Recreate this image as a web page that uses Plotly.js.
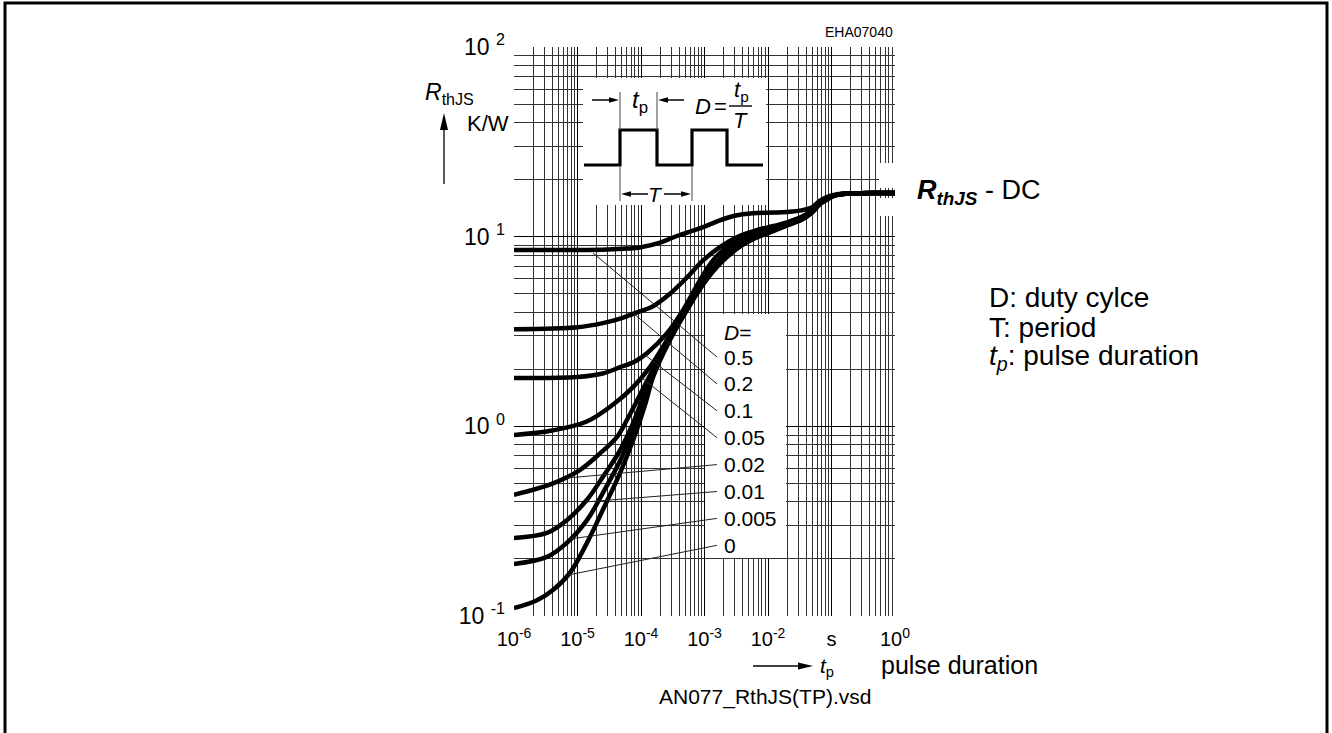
<!DOCTYPE html>
<html><head><meta charset="utf-8">
<script src="https://cdn.plot.ly/plotly-3.0.1.min.js"></script>
<style>html,body{margin:0;padding:0;background:#fff;}#chart{width:1332px;height:733px;}</style>
</head><body><div id="chart"></div>
<script>
// ---------- data ----------
const dutyLabels = ['0.5','0.2','0.1','0.05','0.02','0.01','0.005','0'];
const xTickVals = [1e-6,1e-5,1e-4,1e-3,1e-2,1e-1,1];
const xTickText = ['10<sup>-6</sup>','10<sup>-5</sup>','10<sup>-4</sup>','10<sup>-3</sup>','10<sup>-2</sup>','s','10<sup>0</sup>'];
const yTickVals = [0.1,1,10,100];
const yTickText = ['10\u00a0<sup>-1</sup>','10\u00a0<sup>0</sup>','10\u00a0<sup>1</sup>','10\u00a0<sup>2</sup>'];

const t_D05 = [1e-6,1e-5,3e-5,6e-5,1e-4,2e-4,3.2e-4,5.3e-4,1e-3,1.75e-3,3e-3,5.8e-3,1.2e-2,2e-2,3.5e-2,5e-2,6.6e-2,9e-2,0.12,0.22,0.5,1];
const R_D05 = [8.5,8.5,8.55,8.65,8.8,9.3,9.9,10.5,11.3,12.2,12.9,13.3,13.4,13.5,13.8,14.3,15.5,16.3,16.7,16.9,17.0,17.0];

const t_D02 = [1e-6,1e-5,2.5e-5,5e-5,7.5e-5,1.55e-4,2.86e-4,5.3e-4,9.5e-4,1.75e-3,3e-3,4.6e-3,7e-3,1e-2,2e-2,3.5e-2,5e-2,6.6e-2,9e-2,0.12,0.22,0.5,1];
const R_D02 = [3.25,3.33,3.5,3.72,3.92,4.3,5.0,6.1,7.5,8.8,9.8,10.4,10.9,11.2,11.9,12.8,13.8,15.2,16.1,16.6,16.9,17.0,17.0];

const t_D01 = [1e-6,9.8e-6,2.5e-5,4.7e-5,8e-5,1.24e-4,2.57e-4,4.6e-4,8.5e-4,1.36e-3,2e-3,3.25e-3,5e-3,7.5e-3,1.2e-2,2e-2,3.5e-2,5e-2,6.6e-2,9e-2,0.12,0.22,0.5,1];
const R_D01 = [1.8,1.82,1.9,2.05,2.2,2.43,3.1,4.1,5.9,7.5,8.5,9.6,10.3,10.8,11.2,11.8,12.7,13.8,15.1,16.0,16.6,16.9,17.0,17.0];

const t_D005 = [1e-6,4e-6,1.4e-5,3.6e-5,7.5e-5,1.38e-4,2.57e-4,4.6e-4,8.5e-4,1.36e-3,2.8e-3,5.8e-3,1e-2,2e-2,3.5e-2,5e-2,6.6e-2,9e-2,0.12,0.22,0.5,1];
const R_D005 = [0.9,0.95,1.06,1.3,1.61,2.05,2.85,3.96,5.4,6.9,8.8,10.2,10.8,11.7,12.6,13.7,15.1,16.0,16.6,16.9,17.0,17.0];

const t_D002 = [1e-6,4.1e-6,1.1e-5,2.26e-5,4.2e-5,6e-5,9e-5,1.55e-4,2.86e-4,5.3e-4,9.5e-4,1.75e-3,3.6e-3,6e-3,1e-2,2e-2,3.5e-2,5e-2,6.6e-2,9e-2,0.12,0.22,0.5,1];
const R_D002 = [0.435,0.50,0.59,0.72,0.88,1.08,1.4,2.0,2.95,4.25,5.75,7.35,9.0,9.9,10.6,11.6,12.5,13.6,15.0,16.0,16.6,16.9,17.0,17.0];

const t_D001 = [1e-6,3.3e-6,6.8e-6,1.41e-5,2.5e-5,4.7e-5,7.5e-5,1.1e-4,1.55e-4,2.86e-4,5.3e-4,9.5e-4,1.75e-3,3.6e-3,6e-3,1e-2,2e-2,3.5e-2,5e-2,6.6e-2,9e-2,0.12,0.22,0.5,1];
const R_D001 = [0.258,0.274,0.32,0.41,0.54,0.75,1.04,1.45,1.95,2.92,4.2,5.7,7.3,8.95,9.85,10.55,11.55,12.45,13.55,14.95,15.95,16.6,16.9,17.0,17.0];

const t_D0005 = [1e-6,3.3e-6,6.8e-6,1.41e-5,2.5e-5,4.7e-5,7.5e-5,1.1e-4,1.55e-4,2.86e-4,5.3e-4,9.5e-4,1.75e-3,3.6e-3,6e-3,1e-2,2e-2,3.5e-2,5e-2,6.6e-2,9e-2,0.12,0.22,0.5,1];
const R_D0005 = [0.188,0.205,0.243,0.32,0.445,0.66,0.96,1.38,1.9,2.9,4.15,5.65,7.25,8.9,9.8,10.5,11.5,12.4,13.5,14.9,15.9,16.6,16.9,17.0,17.0];

const t_D0 = [1e-6,2.3e-6,4.1e-6,7.6e-6,1.41e-5,2.5e-5,4.7e-5,8.6e-5,1.2e-4,1.55e-4,2.86e-4,5.3e-4,9.5e-4,1.75e-3,3.6e-3,6e-3,1e-2,2e-2,3.5e-2,5e-2,6.6e-2,9e-2,0.12,0.22,0.5,1];
const R_D0 = [0.110,0.121,0.137,0.169,0.243,0.362,0.57,0.96,1.35,1.82,2.85,4.1,5.6,7.2,8.85,9.75,10.45,11.45,12.35,13.45,14.85,15.85,16.55,16.9,17.0,17.0];

// ---------- layout helpers ----------
const L = 514, T = 47, W = 381, H = 569;
const PX = p => (p - L) / W;
const PY = p => (T + H - p) / H;
const NARROW = '"Liberation Sans Narrow","Arial Narrow","Liberation Sans",Arial,sans-serif';
const SANS = '"Liberation Sans",Arial,Helvetica,sans-serif';

const series = [
  [t_D05,R_D05],[t_D02,R_D02],[t_D01,R_D01],[t_D005,R_D005],
  [t_D002,R_D002],[t_D001,R_D001],[t_D0005,R_D0005],[t_D0,R_D0]
];
const traces = series.map((s,i) => ({
  x: s[0], y: s[1], type: 'scatter', mode: 'lines', name: 'D=' + dutyLabels[i],
  line: {color: '#000', width: 4.5, shape: 'spline', smoothing: 1},
  hoverinfo: 'skip', showlegend: false
}));

function minorVals(d0, d1) {
  const v = [];
  for (let d = d0; d < d1; d++) for (let m = 2; m <= 9; m++) v.push(m * Math.pow(10, d));
  return v;
}

const shapes = [];
const annotations = [];
function rectPx(x0,y0,x1,y1) {
  shapes.push({type:'rect', xref:'paper', yref:'paper', x0:PX(x0), x1:PX(x1), y0:PY(y1), y1:PY(y0),
    fillcolor:'#fff', line:{width:0}, layer:'above'});
}
function linePx(x0,y0,x1,y1,w,c) {
  shapes.push({type:'line', xref:'paper', yref:'paper', x0:PX(x0), y0:PY(y0), x1:PX(x1), y1:PY(y1),
    line:{color:c||'#000', width:w}, layer:'above'});
}
function triPx(pts) {
  const d = 'M ' + pts.map(p => PX(p[0]) + ',' + PY(p[1])).join(' L ') + ' Z';
  shapes.push({type:'path', xref:'paper', yref:'paper', path:d, fillcolor:'#000', line:{width:0}, layer:'above'});
}
function hArrow(xt, xh, y, head, hw, w) {
  const s = Math.sign(xh - xt);
  linePx(xt, y, xh - s*head*0.8, y, w);
  triPx([[xh,y],[xh - s*head, y - hw],[xh - s*head, y + hw]]);
}
function vArrow(x, yt, yh, head, hw, w) {
  const s = Math.sign(yh - yt);
  linePx(x, yt, x, yh - s*head*0.8, w);
  triPx([[x,yh],[x - hw, yh - s*head],[x + hw, yh - s*head]]);
}
function textPx(x, y, txt, size, font, xanchor) {
  annotations.push({xref:'paper', yref:'paper', x:PX(x), y:PY(y), text:txt, showarrow:false,
    xanchor: xanchor || 'left', yanchor:'middle', font:{family:font||NARROW, size:size, color:'#000'}});
}

// outer frame
shapes.push({type:'rect', xref:'paper', yref:'paper', x0:PX(5), x1:PX(1327), y0:PY(740), y1:PY(3),
  line:{color:'#000', width:3}, fillcolor:'rgba(0,0,0,0)', layer:'above'});

// white areas cut out of the grid
rectPx(583, 78, 766, 205);
rectPx(705, 314, 786, 558);
rectPx(879, 163, 897, 188);
rectPx(879, 198, 897, 216);

// pulse inset
shapes.push({type:'path', xref:'paper', yref:'paper', layer:'above', line:{color:'#000', width:3.2},
  path: 'M ' + [[584,165],[620,165],[620,130],[657,130],[657,165],[692,165],[692,130],[727,130],[727,165],[763,165]]
    .map(p => PX(p[0]) + ',' + PY(p[1])).join(' L ')});
linePx(620, 92, 620, 130, 1, '#444');
linePx(657, 92, 657, 130, 1, '#444');
linePx(620, 167, 620, 201, 1, '#444');
linePx(692, 167, 692, 201, 1, '#444');
hArrow(592, 619, 100, 10, 2.8, 1.5);
hArrow(684, 658, 100, 10, 2.8, 1.5);
hArrow(648, 621, 194, 10, 2.8, 1.5);
hArrow(664, 691, 194, 10, 2.8, 1.5);
linePx(729, 106, 752, 106, 1.4);
textPx(640, 102, '<i>t</i><sub>p</sub>', 24, NARROW, 'center');
textPx(703, 106, '<i>D</i>', 22, NARROW, 'center');
textPx(720, 106, '=', 22, NARROW, 'center');
textPx(741, 91, '<i>t</i><sub>p</sub>', 22, NARROW, 'center');
textPx(740, 121, '<i>T</i>', 22, NARROW, 'center');
textPx(655, 194, '<i>T</i>', 21, NARROW, 'center');

// duty-cycle labels with leader lines
textPx(722, 332, '<i>D</i>=', 21, NARROW);
const leaderEnds = [[593,253],[633,313],[645,355],[642,378],[567,478],[585,502],[570,539],[568,575]];
dutyLabels.forEach((lab, i) => {
  const y = 357 + i * 26.9;
  textPx(722, y, lab, 21, NARROW);
  linePx(717, y, leaderEnds[i][0], leaderEnds[i][1], 1, '#222');
});

// y axis title
textPx(423, 94, '<i>R</i><sub>thJS</sub>', 23, NARROW);
vArrow(444, 184, 113, 17, 4, 1.3);
textPx(465, 123, 'K/W', 22, NARROW);
textPx(895, 32, 'EHA07040', 14, NARROW, 'right');

// x axis title
hArrow(753, 813, 666, 15, 3.5, 1.3);
textPx(818, 667, '<i>t</i><sub>p</sub>', 21, NARROW);
textPx(879, 665, 'pulse duration', 25, SANS);
textPx(657, 697, 'AN077_RthJS(TP).vsd', 21, SANS);

// right-side texts
textPx(915, 192, '<b><i>R<sub>thJS</sub></i></b>\u00a0- DC', 27, SANS);
textPx(987, 297, 'D: duty cylce', 28, SANS);
textPx(987, 327, 'T: period', 28, SANS);
textPx(987, 358, '<i>t<sub>p</sub></i>: pulse duration', 28, SANS);

const layout = {
  width: 1332, height: 733,
  margin: {l: L, r: 1332 - L - W, t: T, b: 733 - T - H, pad: 0},
  paper_bgcolor: '#fff', plot_bgcolor: '#fff',
  showlegend: false, hovermode: false,
  xaxis: {
    type: 'log', range: [-6, 0], tickmode: 'array', tickvals: xTickVals, ticktext: xTickText,
    showgrid: true, gridcolor: '#000', gridwidth: 1, zeroline: false, showline: false, ticks: '',
    ticklabelstandoff: 9,
    tickfont: {family: NARROW, size: 20, color: '#000'},
    minor: {tickmode: 'array', tickvals: minorVals(-6, 0), showgrid: true, gridcolor: '#333', gridwidth: 1, ticks: ''}
  },
  yaxis: {
    type: 'log', range: [-1, 2], tickmode: 'array', tickvals: yTickVals, ticktext: yTickText,
    showgrid: true, gridcolor: '#000', gridwidth: 1, zeroline: false, showline: false, ticks: '',
    ticklabelstandoff: 8,
    tickfont: {family: NARROW, size: 23, color: '#000'},
    minor: {tickmode: 'array', tickvals: minorVals(-1, 2), showgrid: true, gridcolor: '#333', gridwidth: 1, ticks: ''}
  },
  shapes: shapes,
  annotations: annotations
};

Plotly.newPlot('chart', traces, layout, {displayModeBar: false, staticPlot: true});
</script>
</body></html>
